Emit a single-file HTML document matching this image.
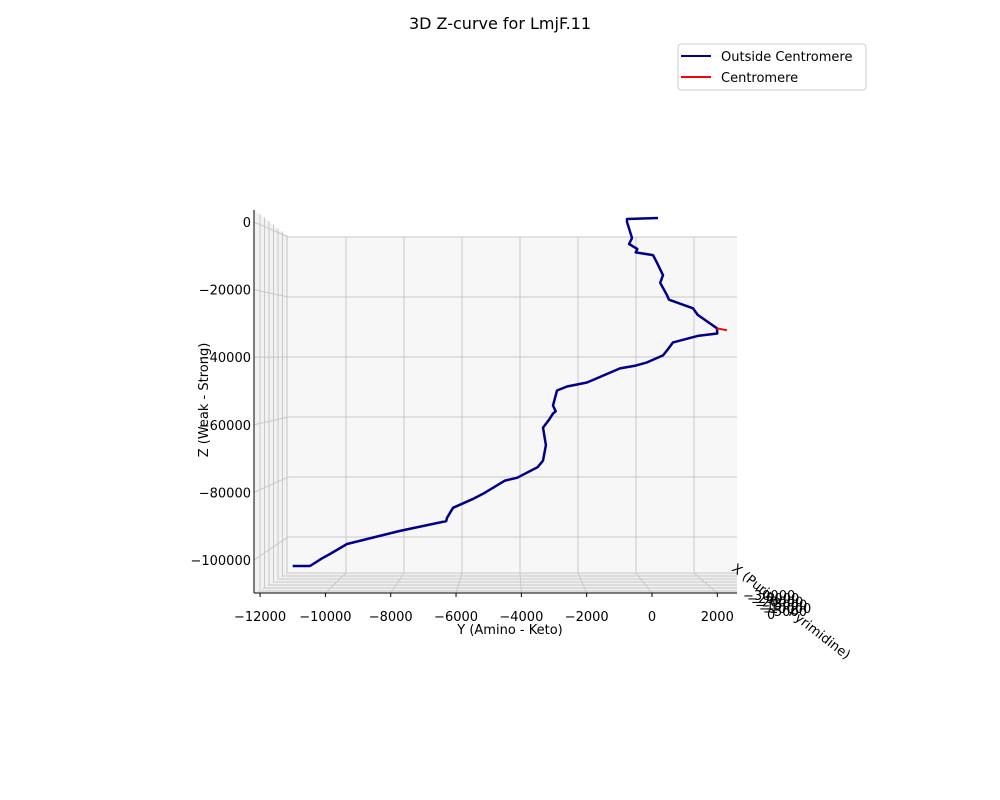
<!DOCTYPE html>
<html><head><meta charset="utf-8">
<style>
html,body{margin:0;padding:0;background:#fff;}
svg{display:block;font-family:"DejaVu Sans","Liberation Sans",sans-serif;}
</style></head>
<body>
<svg id="chart" width="1000" height="800" viewBox="0 0 1000 800">
  <text x="500" y="29" text-anchor="middle" font-size="16">3D Z-curve for LmjF.11</text>
  <g id="panes">
    <polygon points="288,237 737,237 737,573 288,573" fill="#f7f7f7"/>
    <polygon points="254,210 288,237 288,573 254,593" fill="#f2f2f2"/>
    <polygon points="288,573 737,573 737,593 254,593" fill="#f0f0f0"/>
  </g>
  <g id="grid"></g>
  <g id="curve"></g>
  <g id="axes">
    <line x1="254" y1="210" x2="254" y2="593" stroke="#000" stroke-width="1"/>
    <line x1="254" y1="593" x2="737" y2="593" stroke="#000" stroke-width="1"/>
  </g>
  <g id="ticks" font-size="13"></g>
  <text x="510" y="634" text-anchor="middle" font-size="13">Y (Amino - Keto)</text>
  <text transform="translate(208,400) rotate(-90)" text-anchor="middle" font-size="13">Z (Weak - Strong)</text>
  <g id="xaxis" font-size="13">
    <text transform="translate(731,570) rotate(38)" font-size="13">X (Purine - Pyrimidine)</text>
  </g>
  <g>
    <rect x="678" y="44" width="188" height="46" rx="3" fill="#fff" stroke="#ccc"/>
    <line x1="681" y1="56" x2="711" y2="56" stroke="#00008b" stroke-width="2"/>
    <text x="721" y="61" font-size="13">Outside Centromere</text>
    <line x1="681" y1="77" x2="711" y2="77" stroke="#ff0000" stroke-width="2"/>
    <text x="721" y="82" font-size="13">Centromere</text>
  </g>
</svg>
<script>
const yTicks = [-12000,-10000,-8000,-6000,-4000,-2000,0,2000];
const zTicks = [0,-20000,-40000,-60000,-80000,-100000];
const xTickLabels = ["−30000","−25000","−20000","−15000","−10000","−5000","0"];
const outsideY = [184,-766,-766,-612,-700,-450,-500,31,150,337,250,459,520,1255,1400,1990,2000,1400,643,500,337,-153,-500,-980,-1990,-2603,-2909,-3031,-2950,-3031,-3150,-3338,-3250,-3338,-3500,-4134,-4500,-5175,-5500,-6093,-6277,-6300,-7716,-9339,-9860,-10100,-10472,-11000];
const outsideZ = [1187,890,0,-4748,-6500,-8000,-9000,-9792,-12000,-15727,-18000,-21662,-23000,-25519,-27500,-31454,-33000,-33700,-35608,-37500,-39466,-41543,-42500,-43323,-47478,-48665,-49852,-54303,-56000,-56677,-58500,-60831,-66000,-70623,-72500,-75668,-76500,-80415,-82000,-84570,-87537,-88500,-91395,-95252,-98220,-99500,-101780,-101780];
const centroY = [1990,2296];
const centroZ = [-31454,-32047];

const NS="http://www.w3.org/2000/svg";
function sx(v){return 652+v*0.03266;}
function sz(v){return 222-v*0.00338;}
function backX(v){return 636+v*0.029;}
function backZ(v){return 237-v*0.003;}
function mk(tag,attrs,parent){const e=document.createElementNS(NS,tag);for(const k in attrs)e.setAttribute(k,attrs[k]);parent.appendChild(e);return e;}

const grid=document.getElementById('grid');
const gs="#c8c8c8";
yTicks.forEach(function(t){
  if(t<=-12000) return;
  const l=mk('polyline',{points:backX(t)+",237 "+backX(t)+",573 "+sx(t)+",593",fill:"none",stroke:gs,"stroke-width":1},grid);
  
  
});
zTicks.forEach(function(t){
  const l=mk('polyline',{points:"737,"+backZ(t)+" 288,"+backZ(t)+" 254,"+sz(t),fill:"none",stroke:gs,"stroke-width":1},grid);
  
  
});
for(let i=0;i<7;i++){
  const yy=573+i*3;
  const l=mk('line',{x1:288-i*5,y1:yy,x2:737,y2:yy,stroke:gs,"stroke-width":1},grid);
  
  
  const xx=260+i*4.5;
  const l2=mk('line',{x1:xx,y1:214+i*3.5,x2:xx,y2:590-i*2.6,stroke:gs,"stroke-width":1},grid);
  
  
}

const curve=document.getElementById('curve');
let pts=outsideY.map(function(v,i){return sx(v).toFixed(1)+","+sz(outsideZ[i]).toFixed(1);}).join(" ");
const p1=mk('polyline',{points:pts,fill:"none",stroke:"#00008b","stroke-width":2.5,"stroke-linejoin":"round"},curve);


let pts2=centroY.map(function(v,i){return sx(v).toFixed(1)+","+sz(centroZ[i]).toFixed(1);}).join(" ");
const p2=mk('polyline',{points:pts2,fill:"none",stroke:"#ff0000","stroke-width":2},curve);



const ticks=document.getElementById('ticks');
yTicks.forEach(function(t){
  const tk=mk('line',{x1:sx(t),y1:593,x2:sx(t),y2:597,stroke:"#000"},ticks);
  
  
  const tx=mk('text',{x:sx(t),y:621,"text-anchor":"middle"},ticks);
  tx.textContent=(t<0?"−"+Math.abs(t):String(t));
  
  
});
zTicks.forEach(function(t){
  const tx=mk('text',{x:251,y:sz(t)+5,"text-anchor":"end"},ticks);
  tx.textContent=(t<0?"−"+Math.abs(t):String(t));
  
  
});
const xg=document.getElementById('xaxis');
xTickLabels.forEach(function(s,i){
  const tx=mk('text',{x:743+i*4,y:600+i*3.2,"font-size":13},xg);
  tx.textContent=s;
  
  
});
</script>
</body></html>
